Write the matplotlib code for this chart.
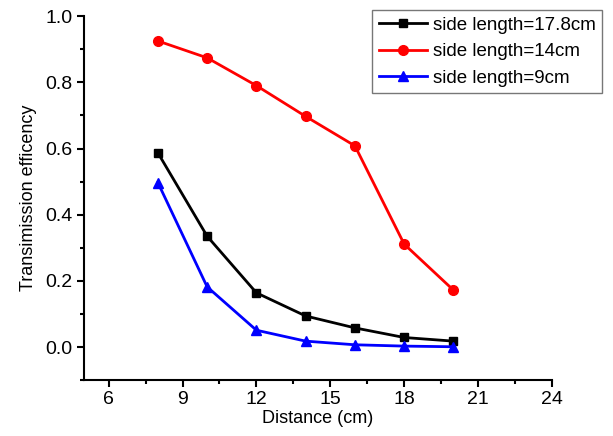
import matplotlib
matplotlib.use('Agg')
import matplotlib.pyplot as plt
from matplotlib.ticker import MultipleLocator

plt.rcParams['font.family'] = ['Liberation Sans', 'DejaVu Sans']

# Transmission efficiency vs. coil distance for three side lengths
distance = [8, 10, 12, 14, 16, 18, 20]
eff_178 = [0.587, 0.335, 0.164, 0.094, 0.058, 0.029, 0.018]
eff_14 = [0.925, 0.874, 0.790, 0.697, 0.608, 0.311, 0.172]
eff_9 = [0.497, 0.182, 0.051, 0.018, 0.007, 0.003, 0.001]

labels = ['side length=17.8cm', 'side length=14cm', 'side length=9cm']

fig = plt.figure(figsize=(6.13, 4.36), dpi=100)
ax = fig.add_axes([0.137, 0.128, 0.7635, 0.835])

ax.plot(distance, eff_178, color='black', marker='s', markersize=6, linewidth=2, label=labels[0])
ax.plot(distance, eff_14, color='red', marker='o', markersize=7, linewidth=2, label=labels[1])
ax.plot(distance, eff_9, color='blue', marker='^', markersize=7, linewidth=2, label=labels[2])

ax.set_xlim(5, 24)
ax.set_ylim(-0.1, 1.0)
ax.xaxis.set_major_locator(MultipleLocator(3))
ax.xaxis.set_minor_locator(MultipleLocator(1.5))
ax.yaxis.set_major_locator(MultipleLocator(0.2))
ax.yaxis.set_minor_locator(MultipleLocator(0.1))
ax.yaxis.set_major_formatter(plt.FuncFormatter(lambda y, _: f'{y:.1f}'))

for side in ['top', 'right']:
    ax.spines[side].set_visible(False)
for side in ['left', 'bottom']:
    ax.spines[side].set_linewidth(1.5)

ax.tick_params(which='major', direction='out', length=5, width=1.5, labelsize=14, pad=3)
ax.tick_params(which='minor', direction='out', length=3, width=1.5)

ax.set_xlabel('Distance (cm)', fontsize=13, labelpad=1)
ax.set_ylabel('Transimission efficency', fontsize=13, labelpad=6)

leg = ax.legend(loc='upper left', bbox_to_anchor=(372 / 613, 1 - 10 / 436),
                bbox_transform=fig.transFigure, fontsize=13.5, frameon=True,
                fancybox=False, edgecolor='#555555', handlelength=2.6,
                borderpad=0.35, labelspacing=0.5, handletextpad=0.3,
                borderaxespad=0)
leg.get_frame().set_linewidth(1.0)

fig.savefig('out.png', dpi=100)
